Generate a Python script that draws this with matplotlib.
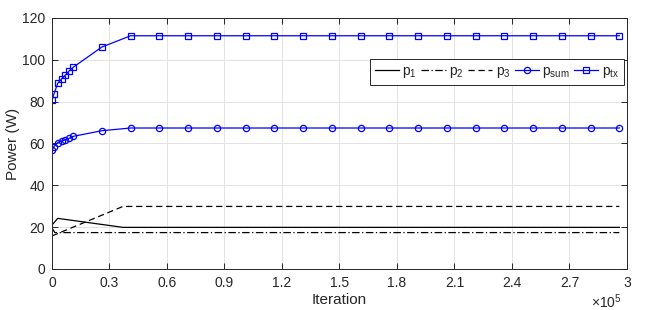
import matplotlib
matplotlib.use("Agg")
import matplotlib.pyplot as plt
import numpy as np

plt.rcParams['font.family'] = ['Liberation Sans', 'DejaVu Sans']
plt.rcParams['mathtext.fontset'] = 'custom'
plt.rcParams['mathtext.rm'] = 'Liberation Sans'
plt.rcParams['mathtext.it'] = 'Liberation Sans'

# iterations where the blue curves are sampled
it_blue = [0, 1000, 3000, 5000, 7000, 9000, 11000, 26000, 41000, 56000, 71000,
           86000, 101000, 116000, 131000, 146000, 161000, 176000, 191000,
           206000, 221000, 236000, 251000, 266000, 281000, 296000]
p_sum = [56.7, 58.5, 60.4, 61.2, 61.8, 62.5, 63.4, 66.1, 67.4, 67.4, 67.4,
         67.4, 67.4, 67.4, 67.4, 67.4, 67.4, 67.4, 67.4,
         67.4, 67.4, 67.4, 67.4, 67.4, 67.4, 67.4]
p_tx = [80.6, 83.6, 88.8, 90.8, 92.7, 94.7, 96.4, 106.1, 111.5, 111.5, 111.5,
        111.5, 111.5, 111.5, 111.5, 111.5, 111.5, 111.5, 111.5,
        111.5, 111.5, 111.5, 111.5, 111.5, 111.5, 111.5]

# black curves (breakpoints)
it_p1 = [0, 3000, 37000, 296000]
p1 = [21.0, 24.2, 19.9, 19.9]
it_p2 = [0, 1500, 37000, 296000]
p2 = [19.5, 17.4, 17.4, 17.4]
it_p3 = [0, 37000, 296000]
p3 = [15.8, 29.9, 29.9]

xticks = [0, 30000, 60000, 90000, 120000, 150000, 180000, 210000, 240000, 270000, 300000]
xtick_labels = ['0', '0.3', '0.6', '0.9', '1.2', '1.5', '1.8', '2.1', '2.4', '2.7', '3']
yticks = [0, 20, 40, 60, 80, 100, 120]

axcol = '#262626'
blue = '#0000FF'

fig = plt.figure(figsize=(6.54, 3.10), dpi=100)
ax = fig.add_axes([0.0795, 0.1323, 0.8792, 0.8097])

ax.plot(it_p1, p1, color='k', lw=0.9, ls='-', label='p$_1$')
ax.plot(it_p2, p2, color='k', lw=0.9, ls=(0, (6, 2, 1, 2)), label='p$_2$')
ax.plot(it_p3, p3, color='k', lw=0.9, ls=(0, (5, 3)), label='p$_3$')
ax.plot(it_blue, p_sum, color=blue, lw=0.9, marker='o', ms=4.5, mfc='none',
        mew=0.9, label='p$_{\\mathrm{sum}}$')
ax.plot(it_blue, p_tx, color=blue, lw=0.9, marker='s', ms=4.2, mfc='none',
        mew=0.9, label='p$_{\\mathrm{tx}}$')

ax.set_xlim(0, 300000)
ax.set_ylim(0, 120)
ax.set_xticks(xticks)
ax.set_xticklabels(xtick_labels)
ax.set_yticks(yticks)
ax.grid(True, color='#e3e3e3', lw=0.7)
ax.set_axisbelow(True)
ax.tick_params(direction='in', length=4, width=0.7, colors=axcol,
               labelsize=10, top=True, right=True, pad=5)
for sp in ax.spines.values():
    sp.set_color(axcol)
    sp.set_linewidth(0.7)

ax.set_xlabel('Iteration', fontsize=11, color=axcol, labelpad=2)
ax.set_ylabel('Power (W)', fontsize=11, color=axcol, labelpad=1)
ax.text(0.99, -0.092, r'$\times10^{5}$', transform=ax.transAxes, ha='right',
        va='top', fontsize=10, color=axcol)

leg = ax.legend(loc='upper right', bbox_to_anchor=(0.995, 0.835), ncol=5,
                fontsize=10, frameon=True, fancybox=False, edgecolor=axcol,
                framealpha=1, handlelength=1.75, handletextpad=0.25,
                columnspacing=0.3, borderpad=0.35, borderaxespad=0)
leg.get_frame().set_linewidth(0.7)
for t in leg.get_texts():
    t.set_color(axcol)

fig.savefig('out.png', dpi=100)
